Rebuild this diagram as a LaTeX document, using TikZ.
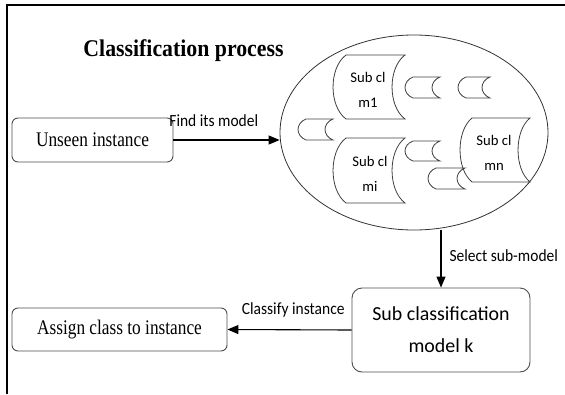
\documentclass[tikz,border=0pt]{standalone}
\usepackage{graphicx}
\usepackage{fontspec}
\setmainfont{Liberation Serif}
\newfontfamily\calib{Carlito}
\usetikzlibrary{shapes.geometric,arrows.meta}

% condensed, slightly tall lettering
\newcommand\tall[1]{\scalebox{1}[1.2]{#1}}
\newcommand\tallish[1]{\scalebox{1}[1.1]{#1}}

% stored-data symbol: left, top, right, bottom, bulge
\newcommand\scrollbox[5]{%
  \pgfmathsetmacro\sxl{#1+#5}%
  \pgfmathsetmacro\sxr{#3-1.33*#5}%
  \pgfmathsetmacro\sxo{#1-0.33*#5}%
  \pgfmathsetmacro\syt{#2+0.2*(#4-#2)}%
  \pgfmathsetmacro\syb{#4-0.2*(#4-#2)}%
  \draw[scrollline] (\sxl,#2) -- (#3,#2)
    .. controls (\sxr,\syt) and (\sxr,\syb) .. (#3,#4) -- (\sxl,#4)
    .. controls (\sxo,\syb) and (\sxo,\syt) .. (\sxl,#2);
}

\begin{document}
\begin{tikzpicture}[x=1pt,y=-1pt,
  box/.style={draw=black!70, line width=0.9pt, rounded corners=6pt, inner sep=0pt},
  boxtext/.style={font=\fontsize{17.3}{20}\selectfont},
  arr/.style={line width=1.1pt, -{Triangle[length=11pt,width=9pt]}},
  lbl/.style={font=\calib\fontsize{15.5}{17}\selectfont, inner sep=2pt},
  scrollline/.style={draw=black!75, line width=0.8pt},
  scrolltext/.style={font=\calib\fontsize{14.7}{25}\selectfont, align=center, inner sep=0pt},
]
\useasboundingbox (0,0) rectangle (565,394);

% frame
\draw[line width=1.6pt] (7,394) -- (7,5) -- (565,5);

% title
\node[font=\bfseries\fontsize{21.8}{24}\selectfont] (title) at (183.5,51) {\tallish{Classification process}};

% boxes
\node[box, boxtext, minimum width=161pt, minimum height=44pt] (unseen) at (92.5,140) {\tall{Unseen instance}};
\node[box, boxtext, minimum width=215pt, minimum height=43pt] (assign) at (119.5,329.5) {\tall{Assign class to instance}};
\node[box, rounded corners=10pt, minimum width=178pt, minimum height=84pt,
      font=\calib\fontsize{19.9}{32}\selectfont, align=center] (sub) at (441,330) {Sub classification\\model k};

% pool of sub-models
\node[draw=black!80, line width=0.8pt, ellipse, minimum width=268pt, minimum height=195pt, inner sep=0pt] (models) at (414,132.5) {};

\scrollbox{333}{55}{405}{119}{13}
\scrollbox{405}{77}{440}{98}{8}
\scrollbox{458}{77}{490}{98}{8}
\scrollbox{298}{119}{333}{140}{8}
\scrollbox{333}{138}{405}{203}{13}
\scrollbox{405}{141}{440}{161}{8}
\scrollbox{428}{168}{465}{189}{8}
\scrollbox{460}{118}{530}{182}{12}

\node[scrolltext] (m1) at (368,90) {Sub cl\\m1};
\node[scrolltext] (mi) at (370,174) {Sub cl\\mi};
\node[scrolltext] (mn) at (494,153) {Sub cl\\mn};

% connectors
\draw[arr] (unseen.east) -- (unseen.east -| models.west)
  node[lbl, pos=0.38, above=11pt] {\tallish{Find its model}};
\draw[arr] (models.south -| sub.north) -- (sub.north)
  node[lbl, pos=0.45, right=6pt] {\tallish{Select sub-model}};
\draw[arr] (sub.west) -- (assign.east)
  node[lbl, pos=0.47, above=10pt] {\tallish{Classify instance}};
\end{tikzpicture}
\end{document}
